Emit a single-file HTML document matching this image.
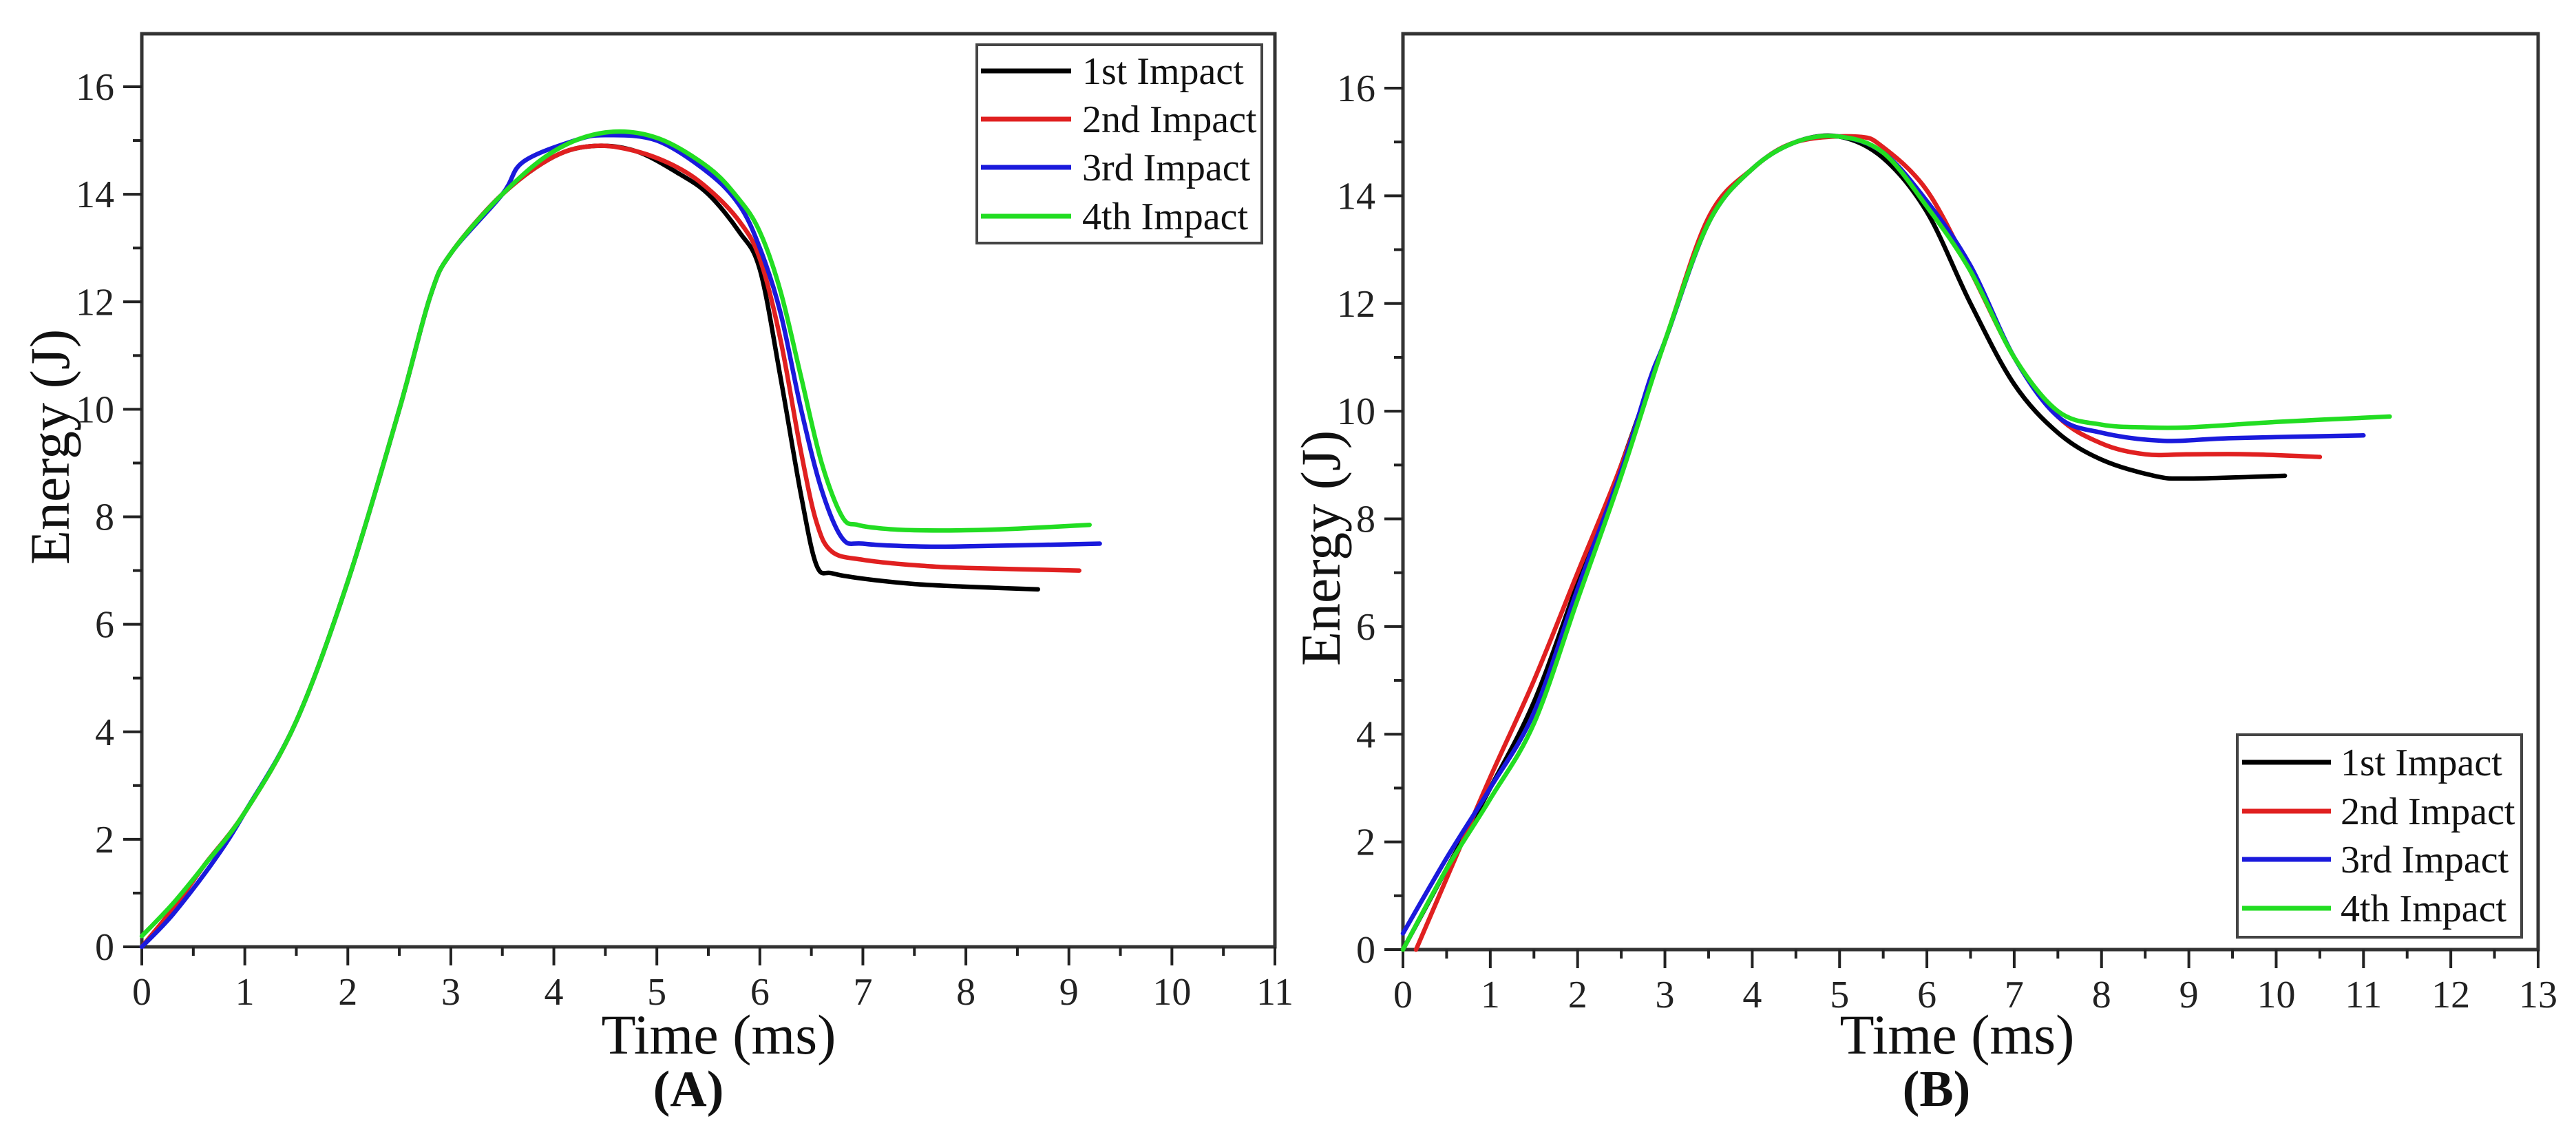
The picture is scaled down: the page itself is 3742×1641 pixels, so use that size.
<!DOCTYPE html>
<html><head><meta charset="utf-8"><style>
html,body{margin:0;padding:0;background:#fff;}
svg{display:block;font-family:"Liberation Serif",serif;}
</style></head><body>
<svg id="fig" width="3742" height="1641" viewBox="0 0 3742 1641"></svg>
<script>
const seriesNames = ["1st Impact","2nd Impact","3rd Impact","4th Impact"];
const seriesColors = ["#000000","#e02020","#1a1adc","#22dd22"];
const yTicks = [0,2,4,6,8,10,12,14,16];
const xTicksA = [0,1,2,3,4,5,6,7,8,9,10,11];
const xTicksB = [0,1,2,3,4,5,6,7,8,9,10,11,12,13];

// Panel A data
const aT1 = [0,0.3,0.6,1,1.5,2,2.5,2.8,3,3.5,4,4.4,4.8,5.2,5.5,5.8,6,6.2,6.4,6.55,6.7,7,7.5,8,8.7];
const aE1 = [0,0.7,1.5,2.5,4.2,6.8,10,12.1,12.9,14,14.7,14.9,14.8,14.4,14,13.3,12.6,10.6,8.4,7.1,6.95,6.85,6.75,6.7,6.65];
const aT2 = [0,0.3,0.6,1,1.5,2,2.5,2.8,3,3.5,4,4.4,4.8,5.2,5.5,5.8,6,6.2,6.4,6.55,6.7,7,7.5,8,9.1];
const aE2 = [0,0.7,1.5,2.5,4.2,6.8,10,12.1,12.9,14,14.7,14.9,14.8,14.5,14.1,13.5,12.8,11.3,9.2,7.9,7.35,7.2,7.1,7.05,7.0];
const aT3 = [0,0.3,0.7,1,1.5,2,2.5,2.8,3,3.5,3.7,4.2,4.5,5,5.5,5.8,6,6.2,6.4,6.6,6.8,7,7.5,8,9.3];
const aE3 = [0,0.6,1.6,2.5,4.2,6.8,10,12.1,12.9,14,14.6,15.0,15.1,15.0,14.4,13.8,13.0,11.8,10.0,8.5,7.6,7.5,7.45,7.45,7.5];
const aT4 = [0,0.3,0.6,1,1.5,2,2.5,2.8,3,3.5,4,4.5,5,5.5,5.8,6,6.2,6.4,6.6,6.8,6.95,7.2,7.5,8,8.5,9.2];
const aE4 = [0.2,0.8,1.5,2.5,4.2,6.8,10,12.1,12.9,14,14.8,15.15,15.05,14.5,13.9,13.3,12.2,10.6,9.0,8.0,7.85,7.78,7.75,7.75,7.78,7.85];

// Panel B data
const bT1 = [0,0.5,1,1.5,2,2.5,3,3.5,4,4.5,5,5.5,6,6.5,7,7.5,8,8.6,9,10.1];
const bE1 = [0,1.5,3,4.6,6.8,9,11.3,13.5,14.5,15,15.1,14.7,13.7,12,10.5,9.6,9.1,8.8,8.75,8.8];
const bT2 = [0.15,0.6,1,1.5,2,2.5,3,3.5,4,4.5,5.2,5.5,6,6.5,7,7.5,8,8.5,9,9.7,10.5];
const bE2 = [0,1.7,3.2,5,7,9,11.3,13.6,14.5,15,15.1,14.9,14.1,12.6,11,9.9,9.4,9.2,9.2,9.2,9.15];
const bT3 = [0,0.5,1,1.5,2,2.5,2.83,3,3.5,4,4.5,5,5.5,6,6.5,7,7.5,8,8.7,9.5,11];
const bE3 = [0.3,1.7,3,4.4,6.7,8.9,10.6,11.3,13.5,14.5,15,15.1,14.8,13.9,12.7,11,9.9,9.6,9.45,9.5,9.55];
const bT4 = [0,0.5,1,1.5,2,2.5,3,3.5,4,4.5,5,5.5,6,6.5,7,7.5,8,8.5,9,10,11.3];
const bE4 = [0,1.5,2.8,4.2,6.5,8.8,11.3,13.5,14.5,15,15.1,14.8,13.8,12.6,11,10,9.75,9.7,9.7,9.8,9.9];

const NS="http://www.w3.org/2000/svg";
const svg=document.getElementById('fig');
function mk(tag,attrs,parent){const e=document.createElementNS(NS,tag);for(const k in attrs)e.setAttribute(k,attrs[k]);(parent||svg).appendChild(e);return e;}

function smoothPath(P){
  let d='M'+P[0][0].toFixed(1)+','+P[0][1].toFixed(1);
  for(let i=0;i<P.length-1;i++){
    const p0=P[Math.max(0,i-1)],p1=P[i],p2=P[i+1],p3=P[Math.min(P.length-1,i+2)];
    const c1=[p1[0]+(p2[0]-p0[0])/6,p1[1]+(p2[1]-p0[1])/6];
    const c2=[p2[0]-(p3[0]-p1[0])/6,p2[1]-(p3[1]-p1[1])/6];
    d+=' C'+c1[0].toFixed(1)+','+c1[1].toFixed(1)+' '+c2[0].toFixed(1)+','+c2[1].toFixed(1)+' '+p2[0].toFixed(1)+','+p2[1].toFixed(1);
  }
  return d;
}

function panel(cfg){
  const g=mk('g',{});
  
  
  const xs=v=>cfg.x0+v*(cfg.x1-cfg.x0)/cfg.xmax;
  const ys=v=>cfg.y0-v*(cfg.y0-cfg.y16)/16;
  const fr=mk('rect',{x:cfg.x0,y:cfg.top,width:cfg.x1-cfg.x0,height:cfg.y0-cfg.top,fill:'none',stroke:'#333','stroke-width':5},g);
  
  
  for(let i=0;i<=cfg.xmax*2;i++){
    const v=i/2, major=i%2===0;
    const t=mk('line',{x1:xs(v),x2:xs(v),y1:cfg.y0,y2:cfg.y0+(major?27:13),stroke:'#222','stroke-width':4},g);
    
    
  }
  cfg.xticks.forEach(v=>{
    const t=mk('text',{x:xs(v),y:cfg.y0+84,'font-size':56,'text-anchor':'middle',fill:'#222'},g);
    t.textContent=v;
    
    
  });
  for(let v=0;v<=16;v++){
    const major=v%2===0;
    const t=mk('line',{x1:cfg.x0,x2:cfg.x0-(major?27:13),y1:ys(v),y2:ys(v),stroke:'#222','stroke-width':4},g);
    
    
  }
  yTicks.forEach(v=>{
    const t=mk('text',{x:cfg.x0-40,y:ys(v)+19,'font-size':56,'text-anchor':'end',fill:'#222'},g);
    t.textContent=v;
    
    
  });
  const xt=mk('text',{x:cfg.xTitleX,y:1530,'font-size':82,'text-anchor':'middle',fill:'#111'},g);
  xt.textContent='Time (ms)';
  
  
  const yt=mk('text',{x:0,y:0,'font-size':82,'text-anchor':'middle',fill:'#111',transform:`translate(${cfg.yTitleX},${cfg.yTitleY}) rotate(-90)`},g);
  yt.textContent='Energy (J)';
  
  
  const pl=mk('text',{x:cfg.labelX,y:1606,'font-size':74,'font-weight':'bold','text-anchor':'middle',fill:'#111'},g);
  pl.textContent=cfg.label;
  
  
  cfg.series.forEach((s,i)=>{
    const P=s[0].map((t,j)=>[xs(t),ys(s[1][j])]);
    const p=mk('path',{d:smoothPath(P),fill:'none',stroke:seriesColors[i],'stroke-width':6.5,'stroke-linejoin':'round','stroke-linecap':'round'},g);
    
    
  });
  const L=cfg.legend;
  const lg=mk('g',{},g);
  
  
  mk('rect',{x:L.x,y:L.y,width:L.w,height:L.h,fill:'#fff',stroke:'#444','stroke-width':4},lg);
  seriesNames.forEach((n,i)=>{
    const cy=L.rows[i];
    const ln=mk('line',{x1:L.lx1,x2:L.lx2,y1:cy,y2:cy,stroke:seriesColors[i],'stroke-width':7},lg);
    
    
    const t=mk('text',{x:L.tx,y:cy+19,'font-size':56,fill:'#111'},lg);
    t.textContent=n;
    
    
  });
}

panel({name:'panel-a',x0:206,x1:1852,xmax:11,y0:1375,y16:126,top:49,xticks:xTicksA,
  xTitleX:1044,yTitleX:100,yTitleY:649,labelX:1000,label:'(A)',
  series:[[aT1,aE1],[aT2,aE2],[aT3,aE3],[aT4,aE4]],
  legend:{x:1419,y:65,w:414,h:288,lx1:1425,lx2:1556,tx:1572,rows:[103,173,243,314]}});
panel({name:'panel-b',x0:2038,x1:3687,xmax:13,y0:1379,y16:128,top:49,xticks:xTicksB,
  xTitleX:2843,yTitleX:1946,yTitleY:796,labelX:2813,label:'(B)',
  series:[[bT1,bE1],[bT2,bE2],[bT3,bE3],[bT4,bE4]],
  legend:{x:3250,y:1067,w:413,h:294,lx1:3257,lx2:3386,tx:3400,rows:[1107,1178,1248,1319]}});
</script>
</body></html>
